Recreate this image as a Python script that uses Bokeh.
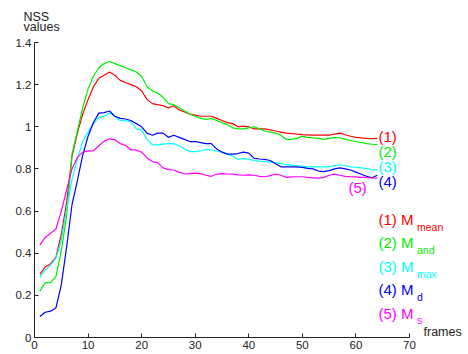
from bokeh.plotting import figure
from bokeh.models import Label, FixedTicker, Range1d, Title
from bokeh.embed import file_html
from bokeh.resources import INLINE

frames = list(range(1, 65))

m_mean = [0.30, 0.335, 0.35, 0.38, 0.49, 0.64, 0.86, 0.97, 1.06, 1.13,
          1.19, 1.23, 1.245, 1.26, 1.245, 1.22, 1.21, 1.20, 1.19, 1.17,
          1.13, 1.11, 1.105, 1.10, 1.09, 1.10, 1.08, 1.07, 1.06, 1.055,
          1.05, 1.05, 1.05, 1.04, 1.03, 1.02, 1.015, 1.0, 1.003, 1.0,
          0.99, 0.99, 0.99, 0.985, 0.98, 0.975, 0.97, 0.968, 0.965, 0.963,
          0.962, 0.96, 0.96, 0.96, 0.96, 0.965, 0.97, 0.962, 0.955, 0.95,
          0.947, 0.945, 0.944, 0.945]
m_and = [0.22, 0.26, 0.26, 0.29, 0.41, 0.58, 0.87, 0.98, 1.09, 1.18,
         1.24, 1.28, 1.30, 1.31, 1.30, 1.29, 1.28, 1.27, 1.26, 1.24,
         1.19, 1.17, 1.16, 1.14, 1.11, 1.105, 1.09, 1.075, 1.06, 1.05,
         1.04, 1.035, 1.04, 1.03, 1.02, 1.01, 0.995, 0.99, 0.99, 0.995,
         1.0, 0.99, 0.98, 0.975, 0.97, 0.96, 0.94, 0.94, 0.945, 0.955,
         0.95, 0.947, 0.945, 0.94, 0.945, 0.95, 0.948, 0.94, 0.935, 0.93,
         0.925, 0.92, 0.917, 0.915]
m_max = [0.287, 0.32, 0.345, 0.375, 0.46, 0.61, 0.75, 0.845, 0.93, 0.975,
         1.015, 1.045, 1.05, 1.065, 1.05, 1.03, 1.028, 1.025, 0.99, 0.984,
         0.94, 0.914, 0.914, 0.918, 0.92, 0.92, 0.91, 0.895, 0.882, 0.882,
         0.885, 0.893, 0.89, 0.885, 0.88, 0.87, 0.86, 0.845, 0.85, 0.845,
         0.84, 0.837, 0.835, 0.832, 0.83, 0.825, 0.82, 0.818, 0.815, 0.813,
         0.81, 0.81, 0.81, 0.81, 0.81, 0.815, 0.82, 0.815, 0.81, 0.808,
         0.805, 0.802, 0.797, 0.795]
m_d = [0.10, 0.12, 0.125, 0.14, 0.25, 0.43, 0.63, 0.745, 0.865, 0.955,
       1.02, 1.065, 1.067, 1.075, 1.05, 1.04, 1.037, 1.03, 1.015, 1.0,
       0.97, 0.96, 0.97, 0.97, 0.95, 0.96, 0.95, 0.94, 0.93, 0.93,
       0.925, 0.92, 0.92, 0.895, 0.88, 0.87, 0.87, 0.873, 0.88, 0.875,
       0.85, 0.847, 0.845, 0.84, 0.825, 0.81, 0.81, 0.81, 0.81, 0.807,
       0.803, 0.80, 0.79, 0.787, 0.792, 0.80, 0.805, 0.80, 0.795, 0.785,
       0.775, 0.765, 0.758, 0.77]
m_s = [0.438, 0.475, 0.495, 0.515, 0.60, 0.70, 0.80, 0.855, 0.88, 0.886,
       0.886, 0.91, 0.932, 0.943, 0.938, 0.92, 0.912, 0.89, 0.89, 0.88,
       0.852, 0.835, 0.83, 0.805, 0.797, 0.795, 0.785, 0.776, 0.778, 0.78,
       0.778, 0.77, 0.765, 0.775, 0.778, 0.776, 0.775, 0.772, 0.77, 0.772,
       0.77, 0.765, 0.763, 0.768, 0.776, 0.77, 0.76, 0.762, 0.763, 0.763,
       0.76, 0.758, 0.756, 0.76, 0.77, 0.775, 0.77, 0.765, 0.763, 0.762,
       0.76, 0.76, 0.757, 0.756]

series = [m_mean, m_and, m_max, m_d, m_s]
colors = ["#ff0000", "#00ee00", "#00ffff", "#0000ff", "#ff00ff"]
tags = ["(1)", "(2)", "(3)", "(4)", "(5)"]
subs = ["mean", "and", "max", "d", "s"]
x_ticks = [0, 10, 20, 30, 40, 50, 60, 70]
y_ticks = [0, 0.2, 0.4, 0.6, 0.8, 1.0, 1.2, 1.4]
y_tick_labels = ["0", "0.2", "0.4", "0.6", "0.8", "1", "1.2", "1.4"]
X_MAX, Y_MAX = 70, 1.4

W, H = 468, 354
L, T, B = 34, 42, 17
AXIS_PX = 375           # pixel length of the 0..70 x axis
FONT = "Liberation Sans"
INK = "#222222"

fw = W - L
x_end = fw * X_MAX / AXIS_PX

title = Title(text="NSS\nvalues", align="left", offset=-11, standoff=13,
              vertical_align="top",
              text_font=FONT, text_font_size="12.5px", text_font_style="normal",
              text_color=INK, text_line_height=0.69)

p = figure(width=W, height=H, output_backend="svg", toolbar_location=None,
           title=title,
           x_range=Range1d(0, x_end), y_range=Range1d(0, Y_MAX),
           min_border_left=L, min_border_right=0, min_border_top=T, min_border_bottom=B)
p.outline_line_color = None
p.grid.visible = False
p.background_fill_color = "white"

for ax in (p.xaxis[0], p.yaxis[0]):
    ax.axis_line_color = INK
    ax.major_tick_line_color = INK
    ax.major_tick_in = 4
    ax.major_tick_out = 0
    ax.minor_tick_line_color = None
    ax.major_label_text_font = FONT
    ax.major_label_text_font_size = "11.5px"
    ax.major_label_text_color = INK
    ax.major_label_standoff = 3
p.xaxis.bounds = (0, X_MAX)
p.yaxis.bounds = (0, Y_MAX)
p.xaxis.ticker = FixedTicker(ticks=x_ticks)
p.yaxis.ticker = FixedTicker(ticks=y_ticks)
p.yaxis.major_label_overrides = {t: s for t, s in zip(y_ticks, y_tick_labels)}

for ys, c in zip(series, colors):
    p.line(frames, ys, line_color=c, line_width=1.2)

fh = H - T - B
def dx(px):
    return (px - L) * X_MAX / AXIS_PX
def dy(py):
    return (H - B - py) / fh * Y_MAX

def lab(text, px, py, size, color):
    p.add_layout(Label(x=dx(px), y=dy(py), text=text, text_font=FONT,
                       text_font_size=size, text_color=color,
                       text_align="left", text_baseline="middle"))

lab("frames", 423, 331.5, "12.5px", INK)

tag_pos = [(378, 135.5), (378, 151), (378, 166), (378, 181), (348, 187)]
for t, (px, py), c in zip(tags, tag_pos, colors):
    lab(t, px, py, "15px", c)

for i, (t, s, c) in enumerate(zip(tags, subs, colors)):
    mid = 219 + 23.4 * i
    lab(t + " M", 378, mid, "15px", c)
    lab(s, 416.5, mid + 7.2, "10.5px", c)

open("out.html", "w").write(file_html(p, INLINE))
